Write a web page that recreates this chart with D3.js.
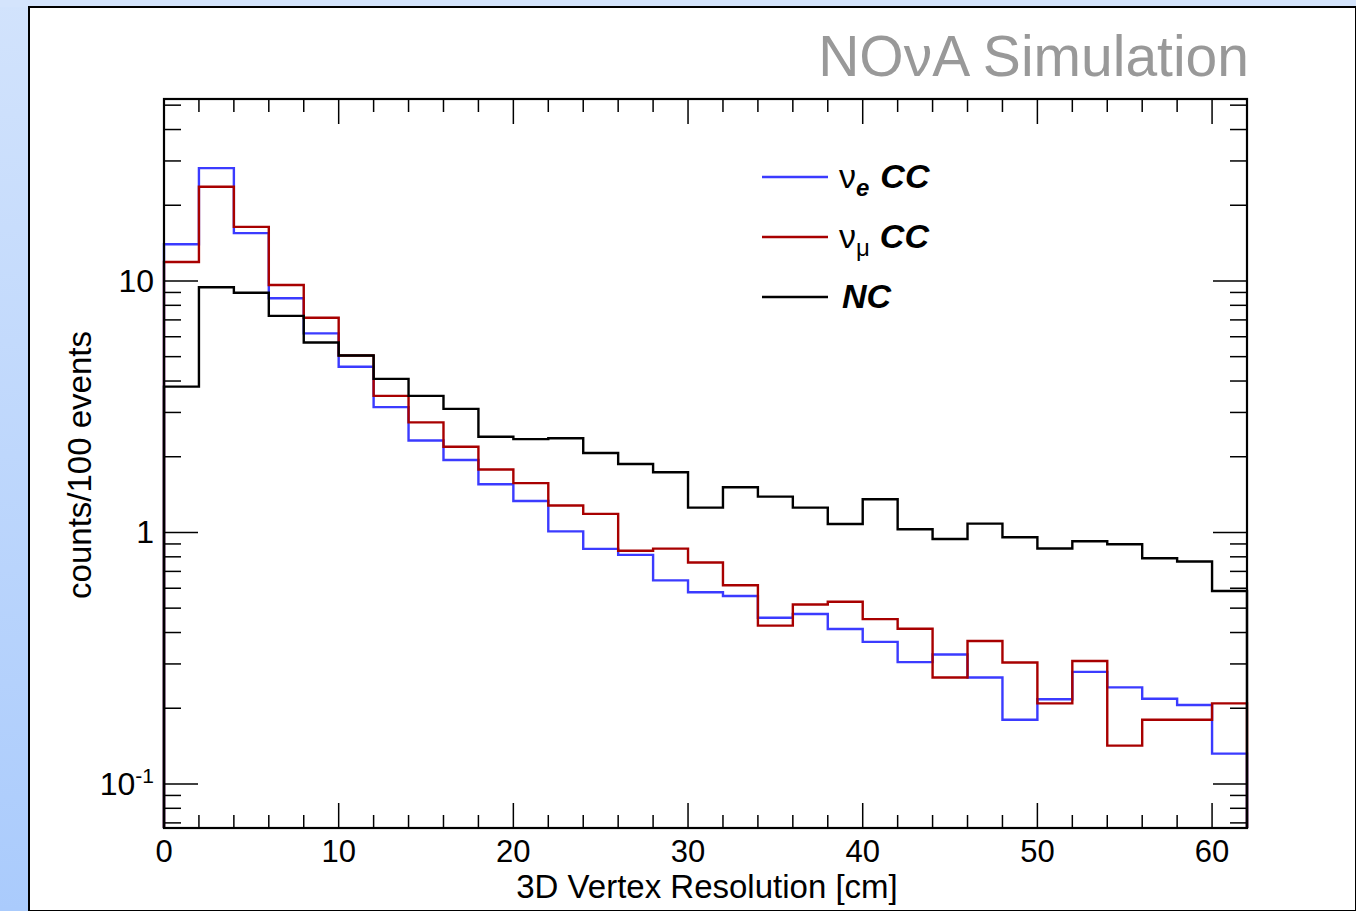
<!DOCTYPE html>
<html>
<head>
<meta charset="utf-8">
<script src="https://cdn.jsdelivr.net/npm/d3@7"></script>
<style>
  body { margin: 0; background: #fff; }
  text { font-family: "Liberation Sans", Arial, sans-serif; }
</style>
</head>
<body>
<script>
var width = 1356
var height = 911

// 2 cm bins from 0 to 62 cm
var binEdges = d3.range(0, 64, 2)
var nueCC = [14.0, 28.1, 15.5, 8.54, 6.19, 4.56, 3.15, 2.32, 1.94, 1.555, 1.334, 1.01, 0.86, 0.814, 0.645,
  0.578, 0.559, 0.458, 0.474, 0.413, 0.367, 0.305, 0.327, 0.265, 0.18, 0.217, 0.279, 0.242, 0.218, 0.206, 0.132]
var numuCC = [11.9, 23.7, 16.4, 9.64, 7.14, 5.05, 3.49, 2.74, 2.19, 1.78, 1.57, 1.28, 1.185, 0.846, 0.862,
  0.759, 0.617, 0.426, 0.517, 0.53, 0.452, 0.414, 0.265, 0.37, 0.304, 0.209, 0.308, 0.142, 0.18, 0.18, 0.209]
var nc = [3.80, 9.44, 8.98, 7.26, 5.69, 5.05, 4.08, 3.49, 3.10, 2.40, 2.35, 2.37, 2.07, 1.87, 1.735,
  1.255, 1.512, 1.388, 1.255, 1.081, 1.355, 1.03, 0.942, 1.084, 0.957, 0.863, 0.923, 0.898, 0.79, 0.766, 0.585]
var xTickLabels = [0, 10, 20, 30, 40, 50, 60]
var yTickLabels = [0.1, 1, 10]

var series = [
  { name: "nue", values: nueCC, color: "#3b3bff" },
  { name: "numu", values: numuCC, color: "#a80000" },
  { name: "nc", values: nc, color: "#000000" }
]

var margin = { left: 164, right: 1247, top: 99, bottom: 828 }

var svg = d3.select("body").append("svg")
    .attr("width", width)
    .attr("height", height)

// canvas background
var defs = svg.append("defs")
var grad = defs.append("linearGradient").attr("id", "bg").attr("x1", 0).attr("y1", 0).attr("x2", 0).attr("y2", 1)
grad.append("stop").attr("offset", "0%").attr("stop-color", "#d2e3fc")
grad.append("stop").attr("offset", "100%").attr("stop-color", "#aacbfc")

svg.append("rect").attr("width", width).attr("height", height).attr("fill", "url(#bg)")
svg.append("rect").attr("x", 0).attr("y", 0).attr("width", width).attr("height", 7).attr("fill", "#d4e4fc")
svg.append("rect").attr("x", 29).attr("y", 7).attr("width", width - 29).attr("height", height - 7)
    .attr("fill", "#fff").attr("stroke", "#000").attr("stroke-width", 2)

var x = d3.scaleLinear().domain([0, 62]).range([margin.left, margin.right])
var y = d3.scaleLog().domain([0.0668, 52.9]).range([margin.bottom, margin.top])

// histograms as steps, starting and ending on the frame bottom
function histPath(values) {
  var p = d3.path()
  p.moveTo(x(0), y.range()[0])
  values.forEach(function(v, i) {
    p.lineTo(x(binEdges[i]), y(v))
    p.lineTo(x(binEdges[i + 1]), y(v))
  })
  p.lineTo(x(62), y.range()[0])
  return p.toString()
}

svg.append("g").selectAll("path").data(series).enter()
    .append("path")
    .attr("d", function(d) { return histPath(d.values) })
    .attr("fill", "none")
    .attr("stroke", function(d) { return d.color })
    .attr("stroke-width", 2.4)
    .attr("stroke-linejoin", "miter")

// ticks (ROOT style, inside the frame on all sides)
var ticks = svg.append("g").attr("stroke", "#000").attr("stroke-width", 1.5)
var xMinor = d3.range(0, 63, 2)
xMinor.forEach(function(v) {
  var len = v % 10 === 0 ? 25 : 13
  ticks.append("line").attr("x1", x(v)).attr("x2", x(v)).attr("y1", margin.bottom).attr("y2", margin.bottom - len)
  ticks.append("line").attr("x1", x(v)).attr("x2", x(v)).attr("y1", margin.top).attr("y2", margin.top + len)
})
var yMinor = []
;[0.01, 0.1, 1, 10].forEach(function(dec) {
  for (var k = 1; k < 10; k++) {
    var v = dec * k
    if (v >= y.domain()[0] && v <= y.domain()[1]) yMinor.push(v)
  }
})
yMinor.forEach(function(v) {
  var major = yTickLabels.some(function(t) { return Math.abs(t - v) < 1e-9 })
  var len = major ? 34 : 17
  ticks.append("line").attr("x1", margin.left).attr("x2", margin.left + len).attr("y1", y(v)).attr("y2", y(v))
  ticks.append("line").attr("x1", margin.right).attr("x2", margin.right - len).attr("y1", y(v)).attr("y2", y(v))
})

// frame
svg.append("rect")
    .attr("x", margin.left).attr("y", margin.top)
    .attr("width", margin.right - margin.left).attr("height", margin.bottom - margin.top)
    .attr("fill", "none").attr("stroke", "#000").attr("stroke-width", 2.2)

// x tick labels
svg.append("g").selectAll("text").data(xTickLabels).enter()
    .append("text")
    .attr("x", function(d) { return x(d) })
    .attr("y", 862)
    .attr("text-anchor", "middle")
    .attr("font-size", 31)
    .text(function(d) { return d })

// y tick labels
var yl = svg.append("g")
yTickLabels.forEach(function(v) {
  var t = yl.append("text").attr("x", 154).attr("y", y(v) + 11).attr("text-anchor", "end").attr("font-size", 32)
  if (v === 0.1) {
    t.append("tspan").text("10")
    t.append("tspan").attr("font-size", 21).attr("dy", -12).text("-1")
  } else {
    t.text(v)
  }
})

// axis titles
svg.append("text")
    .attr("x", 707)
    .attr("y", 898)
    .attr("text-anchor", "middle")
    .attr("font-size", 33)
    .text("3D Vertex Resolution [cm]")

svg.append("text")
    .attr("transform", "translate(91," + 465 + ") rotate(-90)")
    .attr("text-anchor", "middle")
    .attr("font-size", 33)
    .text("counts/100 events")

// title
svg.append("text")
    .attr("x", 1249)
    .attr("y", 76)
    .attr("text-anchor", "end")
    .attr("font-size", 57)
    .attr("fill", "#999")
    .text("NOνA Simulation")

// legend
var legendY = [177, 237, 297]
var leg = svg.append("g")
series.forEach(function(s, i) {
  leg.append("line").attr("x1", 762).attr("x2", 828).attr("y1", legendY[i]).attr("y2", legendY[i])
      .attr("stroke", s.color).attr("stroke-width", 2.4)
})
var t0 = leg.append("text").attr("x", 839).attr("y", legendY[0] + 11).attr("font-size", 34)
t0.append("tspan").text("ν")
t0.append("tspan").attr("font-size", 24).attr("dy", 8).attr("font-style", "italic").attr("font-weight", "bold").text("e")
t0.append("tspan").attr("dy", -8).attr("dx", 11).attr("font-style", "italic").attr("font-weight", "bold").text("CC")
var t1 = leg.append("text").attr("x", 839).attr("y", legendY[1] + 11).attr("font-size", 34)
t1.append("tspan").text("ν")
t1.append("tspan").attr("font-size", 24).attr("dy", 8).text("μ")
t1.append("tspan").attr("dy", -8).attr("dx", 10).attr("font-style", "italic").attr("font-weight", "bold").text("CC")
leg.append("text").attr("x", 842).attr("y", legendY[2] + 11).attr("font-size", 34)
    .attr("font-style", "italic").attr("font-weight", "bold").text("NC")
</script>
</body>
</html>
